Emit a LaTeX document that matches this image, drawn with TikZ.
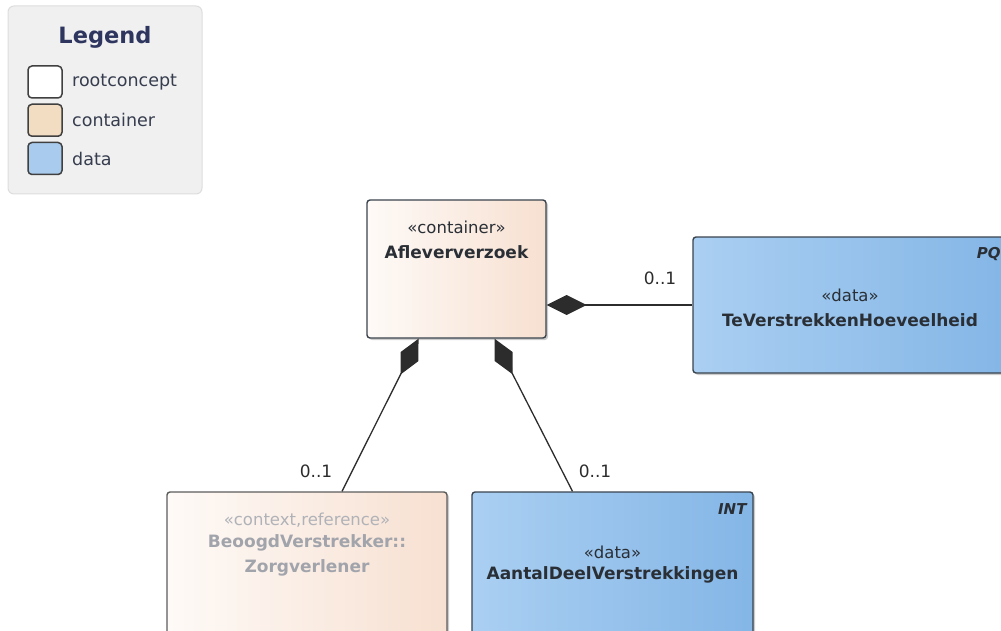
\documentclass[tikz,border=0pt]{standalone}
\usepackage{fontspec}
\setmainfont{DejaVu Sans}
\usetikzlibrary{arrows.meta,shadows}

\definecolor{legendbg}{HTML}{F0F0F0}
\definecolor{legendline}{HTML}{DDDDDD}
\definecolor{legendtitle}{HTML}{2E3660}
\definecolor{legendtext}{HTML}{363D4E}
\definecolor{containerfill}{HTML}{F2DDC2}
\definecolor{datafill}{HTML}{A9CCEE}
\definecolor{peachleft}{HTML}{FEFAF7}
\definecolor{peachright}{HTML}{F7E0D1}
\definecolor{blueleft}{HTML}{AACFF2}
\definecolor{blueright}{HTML}{84B6E6}
\definecolor{boxline}{HTML}{3A444E}
\definecolor{contextline}{HTML}{5C5C5C}
\definecolor{contexttext}{HTML}{A2A4AC}
\definecolor{linkline}{HTML}{2C2C2C}
\definecolor{nametext}{HTML}{2A2F36}

\begin{document}
\begin{tikzpicture}[x=1pt,y=-1pt,
    umlbox/.style={draw=boxline,line width=1.4pt,rounded corners=3pt,inner sep=0pt,
      drop shadow={shadow xshift=2pt,shadow yshift=-2pt,fill=black!40,opacity=0.5}},
    containerbox/.style={umlbox,left color=peachleft,right color=peachright},
    contextbox/.style={umlbox,draw=contextline,left color=peachleft,right color=peachright},
    databox/.style={umlbox,left color=blueleft,right color=blueright},
    stereo/.style={font=\fontsize{16.5}{20}\selectfont,text=nametext},
    classname/.style={font=\fontsize{17}{25}\selectfont\bfseries,text=nametext},
    typetag/.style={font=\fontsize{15}{18}\selectfont\bfseries\itshape,text=nametext,anchor=east,inner sep=0pt},
    mult/.style={font=\fontsize{17}{20}\selectfont,text=linkline},
    link/.style={{Diamond[length=40pt,width=20pt]}-,draw=linkline,line width=1.3pt},
    swatch/.style={draw=black!75,line width=1.5pt,rounded corners=4pt,minimum width=34pt,minimum height=32pt,inner sep=0pt},
    legendlabel/.style={font=\fontsize{17.5}{20}\selectfont,text=legendtext,anchor=west,inner sep=0pt}]

    \useasboundingbox (0,0) rectangle (1001,631);
    \clip (0,0) rectangle (1001,631);

    % legend
    \node[draw=legendline,fill=legendbg,line width=1pt,rounded corners=6pt,
          minimum width=194pt,minimum height=188pt] (legend) at (105,100) {};
    \node[font=\fontsize{22.5}{26}\selectfont\bfseries,text=legendtitle] (legend-title) at (105,37) {Legend};
    \foreach \swatchcol/\swatchname [count=\i] in {white/rootconcept,containerfill/container,datafill/data} {
        \node[swatch,fill=\swatchcol] (swatch-\i) at (45,82+38.25*\i-38.25) {};
        \node[legendlabel] (swatch-label-\i) at (72,82+38.25*\i-38.25) {\swatchname};
    }

    % classes
    \node[containerbox,minimum width=179pt,minimum height=138pt] (aflever) at (456.5,269) {};
    \node[stereo] (aflever-st) at (456.5,227) {«container»};
    \node[classname] (aflever-name) at (456.5,252) {Afleververzoek};

    \node[databox,minimum width=314pt,minimum height=136pt] (hoeveelheid) at (850,305) {};
    \node[typetag] (hoeveelheid-type) at ([xshift=-7pt,yshift=-18pt]hoeveelheid.north east) {PQ};
    \node[stereo] (hoeveelheid-st) at (850,295) {«data»};
    \node[classname] (hoeveelheid-name) at (850,320) {TeVerstrekkenHoeveelheid};

    \node[contextbox,minimum width=280pt,minimum height=160pt] (beoogd) at (307,572) {};
    \node[stereo,text=contexttext!85] (beoogd-st) at (307,520) {«context,reference»};
    \node[classname,text=contexttext,align=center] (beoogd-name) at (307,555.5) {BeoogdVerstrekker::\\Zorgverlener};

    \node[databox,minimum width=281pt,minimum height=160pt] (aantal) at (612.5,572) {};
    \node[typetag] (aantal-type) at ([xshift=-7pt,yshift=-18pt]aantal.north east) {INT};
    \node[stereo] (aantal-st) at (612.5,552) {«data»};
    \node[classname] (aantal-name) at (612.5,575) {AantalDeelVerstrekkingen};

    % composition links
    \draw[link] (aflever.east |- hoeveelheid.west) -- (hoeveelheid.west);
    \draw[link] ([xshift=-38pt]aflever.south) -- ([xshift=35pt]beoogd.north);
    \draw[link] ([xshift=38pt]aflever.south) -- ([xshift=-40pt]aantal.north);

    \node[mult] (hoeveelheid-mult) at (660,278) {0..1};
    \node[mult] (beoogd-mult) at (316,471) {0..1};
    \node[mult] (aantal-mult) at (595,471) {0..1};
\end{tikzpicture}
\end{document}
